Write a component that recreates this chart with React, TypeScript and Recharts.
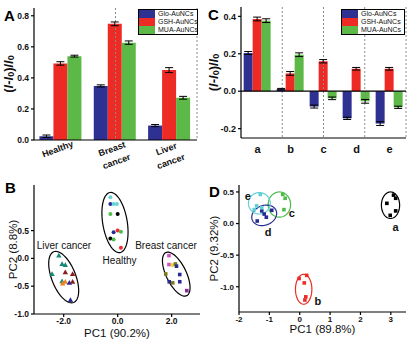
import React from "react";
import {
  BarChart,
  Bar,
  XAxis,
  YAxis,
  ErrorBar,
  ReferenceLine,
  Legend,
  ScatterChart,
  Scatter,
} from "recharts";

const FONT = '"Liberation Sans", Arial, sans-serif';
const BLUE = "#2e3192";
const RED = "#ee2a24";
const GREEN = "#5cb947";
const AXIS = { stroke: "#000", strokeWidth: 1.2 };
const SEP = "#8a8a8a";

// panel A
const groupsA = ["Healthy", "Breast cancer", "Liver cancer"];
const gloA = [0.024, 0.348, 0.093];
const gshA = [0.493, 0.748, 0.45];
const muaA = [0.54, 0.627, 0.272];
const gloErrA = [0.008, 0.007, 0.007];
const gshErrA = [0.011, 0.012, 0.016];
const muaErrA = [0.006, 0.011, 0.009];
const ticksA = [0, 0.2, 0.4, 0.6, 0.8];

// panel C
const groupsC = ["a", "b", "c", "d", "e"];
const gloC = [0.204, 0.011, -0.082, -0.145, -0.173];
const gshC = [0.386, 0.095, 0.16, 0.12, 0.12];
const muaC = [0.377, 0.195, -0.038, -0.054, -0.086];
const gloErrC = [0.008, 0.004, 0.008, 0.006, 0.01];
const gshErrC = [0.01, 0.01, 0.009, 0.007, 0.007];
const muaErrC = [0.01, 0.01, 0.007, 0.01, 0.006];
const ticksC = [-0.2, 0, 0.2, 0.4];

const series = [
  { key: "glo", name: "Glo-AuNCs", color: BLUE },
  { key: "gsh", name: "GSH-AuNCs", color: RED },
  { key: "mua", name: "MUA-AuNCs", color: GREEN },
];

// panel B (PCA, sera)
const CYAN = "#66d4d8";
const NAVY = "#262c94";
const PGREEN = "#4cbf4c";
const BLACK = "#000";
const PRED = "#ef2d2d";
const TEAL = "#168877";
const DARKRED = "#8b1c1c";
const ORANGE = "#f0821e";
const MAGENTA = "#d44fc8";
const YELLOW = "#e6dc1e";
const OLIVE = "#7d7a1c";
const PURPLE = "#8a2a9a";

const healthyB = [
  { x: -0.27, y: 1.1, color: CYAN },
  { x: -0.27, y: 0.98, color: NAVY },
  { x: -0.15, y: 0.98, color: CYAN },
  { x: -0.03, y: 0.98, color: CYAN },
  { x: -0.27, y: 0.8, color: PGREEN },
  { x: 0.0, y: 0.8, color: BLACK },
  { x: -0.15, y: 0.47, color: NAVY },
  { x: 0.0, y: 0.5, color: PRED },
  { x: 0.12, y: 0.48, color: PGREEN },
  { x: -0.27, y: 0.36, color: BLACK },
  { x: -0.15, y: 0.34, color: PGREEN },
  { x: 0.12, y: 0.19, color: PRED },
];
const liverB = [
  { x: -2.18, y: 0.05, color: TEAL },
  { x: -2.06, y: -0.1, color: TEAL },
  { x: -1.94, y: -0.12, color: TEAL },
  { x: -2.43, y: -0.28, color: TEAL },
  { x: -1.94, y: -0.25, color: DARKRED },
  { x: -1.67, y: -0.28, color: DARKRED },
  { x: -2.06, y: -0.41, color: TEAL },
  { x: -1.94, y: -0.42, color: ORANGE },
  { x: -2.04, y: -0.45, color: ORANGE },
  { x: -1.67, y: -0.42, color: DARKRED },
  { x: -1.79, y: -0.44, color: NAVY },
  { x: -1.75, y: -0.75, color: NAVY },
];
const breastB = [
  { x: 1.9, y: 0.05, color: MAGENTA },
  { x: 1.9, y: -0.11, color: MAGENTA },
  { x: 2.04, y: -0.12, color: YELLOW },
  { x: 2.14, y: -0.1, color: OLIVE },
  { x: 2.18, y: -0.14, color: NAVY },
  { x: 1.78, y: -0.28, color: OLIVE },
  { x: 2.3, y: -0.29, color: NAVY },
  { x: 1.91, y: -0.42, color: NAVY },
  { x: 2.04, y: -0.44, color: OLIVE },
  { x: 2.3, y: -0.42, color: NAVY },
  { x: 2.56, y: -0.58, color: PURPLE },
];
// ellipse: centre + two conjugate semi-axes (data units)
const ellipsesB = [
  { cx: -0.1, cy: 0.645, ax: -0.185, ay: 0.54, bx: 0.448, by: 0.036, color: "#000" },
  { cx: -2.0, cy: -0.337, ax: -0.37, ay: 0.456, bx: 0.414, by: 0.079, color: "#000" },
  { cx: 2.17, cy: -0.283, ax: -0.388, ay: 0.387, bx: 0.333, by: 0.079, color: "#000" },
];
const labelsB = [
  { x: -1.99, y: 0.225, text: "Liver cancer" },
  { x: 0.07, y: -0.03, text: "Healthy" },
  { x: 1.79, y: 0.225, text: "Breast cancer" },
];

// panel D (PCA, a-e)
const ptsA = [
  { x: 3.09, y: 0.45 }, { x: 3.16, y: 0.4 }, { x: 2.87, y: 0.32 }, { x: 3.16, y: 0.2 }, { x: 2.98, y: 0.13 },
];
const ptsB = [
  { x: -0.02, y: -0.87 }, { x: 0.23, y: -0.82 }, { x: 0.15, y: -0.94 }, { x: 0.2, y: -1.16 }, { x: 0.17, y: -1.21 },
];
const ptsC = [
  { x: -0.56, y: 0.46 }, { x: -0.48, y: 0.4 }, { x: -0.52, y: 0.22 },
];
const ptsD = [
  { x: -1.25, y: 0.2 }, { x: -1.17, y: 0.15 }, { x: -1.1, y: 0.1 }, { x: -1.4, y: 0.04 }, { x: -0.92, y: 0.21 },
];
const ptsE = [
  { x: -1.3, y: 0.46 }, { x: -1.42, y: 0.28 }, { x: -1.5, y: 0.22 }, { x: -1.25, y: 0.25 },
];
const groupsD = [
  { pts: ptsA, color: "#000", ell: { cx: 2.99, cy: 0.29, ax: 0.3, ay: 0, bx: 0, by: 0.21 } },
  { pts: ptsB, color: "#ee2b24", ell: { cx: 0.13, cy: -1.04, ax: 0.27, ay: 0, bx: 0, by: 0.237 } },
  { pts: ptsC, color: "#4cbb4c", ell: { cx: -0.67, cy: 0.3, ax: 0.37, ay: 0, bx: 0, by: 0.2 } },
  { pts: ptsD, color: "#262c94", ell: { cx: -1.17, cy: 0.13, ax: 0.41, ay: 0.03, bx: 0, by: 0.16 } },
  { pts: ptsE, color: "#62cfd6", ell: { cx: -1.33, cy: 0.32, ax: 0.36, ay: 0, bx: 0, by: 0.17 } },
];
const labelsD = [
  { x: 3.16, y: -0.05, text: "a" },
  { x: 0.6, y: -1.23, text: "b" },
  { x: -0.26, y: 0.16, text: "c" },
  { x: -1.04, y: -0.13, text: "d" },
  { x: -1.71, y: 0.44, text: "e" },
];

const dataA = groupsA.map((name, i) => ({
  name, glo: gloA[i], gsh: gshA[i], mua: muaA[i],
  gloErr: gloErrA[i], gshErr: gshErrA[i], muaErr: muaErrA[i],
}));
const dataC = groupsC.map((name, i) => ({
  name, glo: gloC[i], gsh: gshC[i], mua: muaC[i],
  gloErr: gloErrC[i], gshErr: gshErrC[i], muaErr: muaErrC[i],
}));

function outline(e: any) {
  const pts = [];
  for (let k = 0; k <= 72; k++) {
    const t = (k / 72) * Math.PI * 2;
    pts.push({
      x: e.cx + e.ax * Math.cos(t) + e.bx * Math.sin(t),
      y: e.cy + e.ay * Math.cos(t) + e.by * Math.sin(t),
    });
  }
  return pts;
}

const f1 = (v: number) => v.toFixed(1);
const TICK = { fontSize: 8.5, fontWeight: "bold", fill: "#111", fontFamily: FONT };

const hidden = () => <g />;
const circle = (p: any) => <circle cx={p.cx} cy={p.cy} r={2} fill={p.payload.color} />;
const square = (p: any) => (
  <rect x={p.cx - 1.8} y={p.cy - 1.8} width={3.6} height={3.6} fill={p.payload.color || p.fill} />
);
const triangle = (p: any) => (
  <polygon
    points={`${p.cx},${p.cy - 2.8} ${p.cx - 2.7},${p.cy + 2} ${p.cx + 2.7},${p.cy + 2}`}
    fill={p.payload.color}
  />
);
const labelShape = (size: number, weight: string) => (p: any) => (
  <text
    x={p.cx}
    y={p.cy}
    textAnchor="middle"
    dominantBaseline="central"
    fontSize={size}
    fontWeight={weight}
    fontFamily={FONT}
    fill="#111"
  >
    {p.payload.text}
  </text>
);

function GroupTick({ x, y, payload }: any) {
  const lines = String(payload.value).split(" ");
  return (
    <g>
      {lines.map((l, i) => {
        const cx = x - 3.5 + i * 4.5;
        const cy = y + 7 + i * 12.5;
        return (
          <text
            key={i}
            x={cx}
            y={cy + 3}
            transform={`rotate(-20, ${cx}, ${cy})`}
            textAnchor="middle"
            fontSize={9}
            fontWeight="bold"
            fontFamily={FONT}
            fill="#111"
          >
            {l}
          </text>
        );
      })}
    </g>
  );
}

function YTitle({ viewBox, dx, node }: any) {
  const vb = viewBox || { x: 0, y: 0, width: 0, height: 0 };
  const cx = vb.x + dx;
  const cy = vb.y + vb.height / 2;
  return (
    <text
      x={cx}
      y={cy}
      transform={`rotate(-90, ${cx}, ${cy})`}
      textAnchor="middle"
      dominantBaseline="central"
      fontFamily={FONT}
      fill="#111"
    >
      {node}
    </text>
  );
}

function XTitle({ viewBox, dy, caption }: any) {
  const vb = viewBox || { x: 0, y: 0, width: 0, height: 0 };
  return (
    <text
      x={vb.x + vb.width / 2}
      y={vb.y + dy}
      textAnchor="middle"
      fontSize={11.5}
      fontFamily={FONT}
      fill="#111"
    >
      {caption}
    </text>
  );
}

const ratioTitle = (
  <tspan fontSize={13} fontWeight="bold">
    (<tspan fontStyle="italic">I</tspan>-<tspan fontStyle="italic">I</tspan>
    <tspan dy={3} fontSize={9}>0</tspan>
    <tspan dy={-3}>)/</tspan>
    <tspan fontStyle="italic">I</tspan>
    <tspan dy={3} fontSize={9}>0</tspan>
  </tspan>
);
const pcTitle = (t: string) => <tspan fontSize={11.5}>{t}</tspan>;

function SeriesLegend() {
  return (
    <div style={{ border: "1px solid #000", background: "#fff", fontFamily: FONT, fontSize: 7, color: "#111", whiteSpace: "nowrap" }}>
      {series.map((s) => (
        <div key={s.key} style={{ display: "flex", alignItems: "center", height: 8 }}>
          <div style={{ width: 16, height: 8, background: s.color, flexShrink: 0 }} />
          <span style={{ marginLeft: 3, lineHeight: "8px", whiteSpace: "nowrap" }}>{s.name}</span>
        </div>
      ))}
    </div>
  );
}

function bars() {
  return series.map((s) => (
    <Bar key={s.key} dataKey={s.key} fill={s.color} isAnimationActive={false}>
      <ErrorBar dataKey={s.key + "Err"} width={4} strokeWidth={1} stroke="#000" />
    </Bar>
  ));
}

export default function App() {
  return (
    <div style={{ position: "absolute", left: 0, top: 0, width: 412, height: 340, background: "#fff" }}>
      <div style={{ position: "absolute", left: 0, top: 0 }}>
        <BarChart width={206} height={170} data={dataA} margin={{ top: 8, right: 9, left: 0, bottom: 0 }} barCategoryGap="10%" barGap={0}>
          <XAxis dataKey="name" interval={0} height={30} tickLine={false} tickSize={0} tick={<GroupTick />} axisLine={AXIS} />
          <XAxis xAxisId="sep" type="number" domain={[0, 3]} orientation="top" height={0} tick={false} tickLine={false} axisLine={AXIS} />
          <YAxis domain={[0, 0.85]} ticks={ticksA} tickFormatter={f1} width={34} tickSize={3} tickMargin={2} tick={TICK} axisLine={AXIS} tickLine={AXIS} label={<YTitle dx={8} node={ratioTitle} />} />
          <YAxis yAxisId="r" orientation="right" type="number" domain={[0, 1]} width={0} tick={false} tickLine={false} axisLine={AXIS} />
          <ReferenceLine xAxisId="sep" x={1} stroke={SEP} strokeDasharray="2 2" />
          <ReferenceLine xAxisId="sep" x={2} stroke={SEP} strokeDasharray="2 2" />
          {bars()}
          <Legend content={<SeriesLegend />} layout="vertical" align="center" verticalAlign="middle" wrapperStyle={{ top: 9, left: 138, width: 60 }} />
        </BarChart>
      </div>

      <div style={{ position: "absolute", left: 206, top: 0 }}>
        <BarChart width={206} height={170} data={dataC} margin={{ top: 7, right: 6, left: 0, bottom: 0 }} barCategoryGap="8%" barGap={0}>
          <XAxis dataKey="name" interval={0} height={32} tickLine={false} tickSize={0} tickMargin={7} tick={{ ...TICK, fontSize: 11 }} axisLine={AXIS} />
          <XAxis xAxisId="sep" type="number" domain={[0, 5]} orientation="top" height={0} tick={false} tickLine={false} axisLine={AXIS} />
          <YAxis domain={[-0.25, 0.45]} ticks={ticksC} tickFormatter={f1} width={35} tickSize={3} tickMargin={2} tick={{ ...TICK, fontSize: 9 }} axisLine={AXIS} tickLine={AXIS} label={<YTitle dx={7} node={ratioTitle} />} />
          <YAxis yAxisId="r" orientation="right" type="number" domain={[0, 1]} width={0} tick={false} tickLine={false} axisLine={AXIS} />
          {[1, 2, 3, 4].map((v) => (
            <ReferenceLine key={v} xAxisId="sep" x={v} stroke={SEP} strokeDasharray="2 2" />
          ))}
          <ReferenceLine y={0} stroke="#000" strokeWidth={1.2} />
          {bars()}
          <Legend content={<SeriesLegend />} layout="vertical" align="center" verticalAlign="middle" wrapperStyle={{ top: 9, left: 135, width: 64 }} />
        </BarChart>
      </div>

      <div style={{ position: "absolute", left: 0, top: 170 }}>
        <ScatterChart width={206} height={170} margin={{ top: 15, right: 6, left: 0, bottom: 0 }}>
          <XAxis type="number" dataKey="x" domain={[-3.1, 3.05]} ticks={[-2, 0, 2]} tickFormatter={f1} allowDataOverflow height={26} tickSize={3} tickMargin={1} tick={TICK} axisLine={AXIS} tickLine={AXIS} label={<XTitle dy={23} caption="PC1 (90.2%)" />} />
          <XAxis xAxisId="top" type="number" orientation="top" domain={[0, 1]} height={0} tick={false} tickLine={false} axisLine={AXIS} />
          <YAxis type="number" dataKey="y" domain={[-1, 1.32]} ticks={[-1, -0.5, 0, 0.5]} tickFormatter={f1} allowDataOverflow width={34} tickSize={3} tickMargin={2} tick={TICK} axisLine={AXIS} tickLine={AXIS} label={<YTitle dx={13} node={pcTitle("PC2 (8.8%)")} />} />
          <YAxis yAxisId="r" orientation="right" type="number" domain={[0, 1]} width={0} tick={false} tickLine={false} axisLine={AXIS} />
          {ellipsesB.map((e, i) => (
            <Scatter key={"e" + i} data={outline(e)} line={{ stroke: e.color, strokeWidth: 1.2 }} shape={hidden} isAnimationActive={false} />
          ))}
          <Scatter data={healthyB} shape={circle} isAnimationActive={false} />
          <Scatter data={liverB} shape={triangle} isAnimationActive={false} />
          <Scatter data={breastB} shape={square} isAnimationActive={false} />
          <Scatter data={labelsB} shape={labelShape(10, "normal")} isAnimationActive={false} />
        </ScatterChart>
      </div>

      <div style={{ position: "absolute", left: 206, top: 170 }}>
        <ScatterChart width={206} height={170} margin={{ top: 15, right: 6, left: 0, bottom: 0 }}>
          <XAxis type="number" dataKey="x" domain={[-2, 3.5]} ticks={[-2, -1, 0, 1, 2, 3]} allowDataOverflow height={28} tickSize={3} tickMargin={1} tick={{ ...TICK, fontSize: 8 }} axisLine={AXIS} tickLine={AXIS} label={<XTitle dy={21} caption="PC1 (89.8%)" />} />
          <XAxis xAxisId="top" type="number" orientation="top" domain={[0, 1]} height={0} tick={false} tickLine={false} axisLine={AXIS} />
          <YAxis type="number" dataKey="y" domain={[-1.4, 0.61]} ticks={[-1, -0.5, 0, 0.5]} tickFormatter={f1} allowDataOverflow width={33} tickSize={3} tickMargin={2} tick={{ ...TICK, fontSize: 8 }} axisLine={AXIS} tickLine={AXIS} label={<YTitle dx={8} node={pcTitle("PC2 (9.32%)")} />} />
          <YAxis yAxisId="r" orientation="right" type="number" domain={[0, 1]} width={0} tick={false} tickLine={false} axisLine={AXIS} />
          {groupsD.map((g, i) => (
            <Scatter key={"e" + i} data={outline(g.ell)} line={{ stroke: g.color, strokeWidth: 1.2 }} shape={hidden} isAnimationActive={false} />
          ))}
          {groupsD.map((g, i) => (
            <Scatter key={"p" + i} data={g.pts.map((p) => ({ ...p, color: g.color }))} shape={square} isAnimationActive={false} />
          ))}
          <Scatter data={labelsD} shape={labelShape(11, "bold")} isAnimationActive={false} />
        </ScatterChart>
      </div>

      <svg width={412} height={340} style={{ position: "absolute", left: 0, top: 0, pointerEvents: "none" }}>
        <g fontFamily={FONT} fontWeight="bold" fontSize={15} fill="#000">
          <text x={4} y={21}>A</text>
          <text x={208} y={20}>C</text>
          <text x={5} y={193}>B</text>
          <text x={209} y={197}>D</text>
        </g>
      </svg>
    </div>
  );
}
